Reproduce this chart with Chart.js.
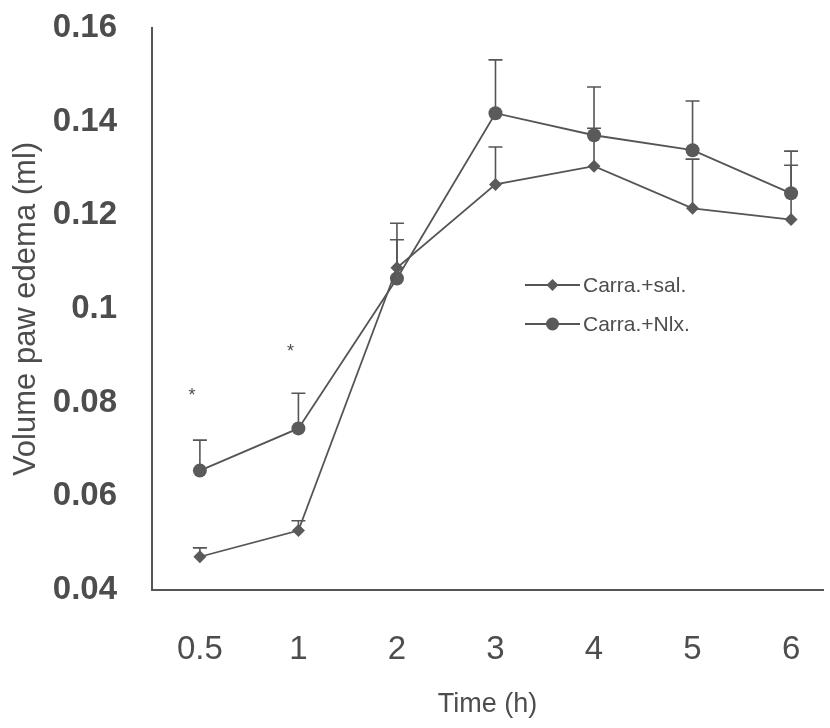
<!DOCTYPE html>
<html>
<head>
<meta charset="utf-8">
<script src="https://cdn.jsdelivr.net/npm/chart.js@4.4.1/dist/chart.umd.min.js"></script>
<style>
  html, body { margin: 0; padding: 0; background: #ffffff; }
  #wrap { width: 830px; height: 728px; position: relative; }
</style>
</head>
<body>
<div id="wrap"><canvas id="c"></canvas></div>
<script>
const categories = ['0.5', '1', '2', '3', '4', '5', '6'];
const yTicks = [0.04, 0.06, 0.08, 0.1, 0.12, 0.14, 0.16];
const salLabel = 'Carra.+sal.';
const nlxLabel = 'Carra.+Nlx.';
const salMean  = [0.0471, 0.0527, 0.1088, 0.1266, 0.1305, 0.1215, 0.1191];
const salUpper = [0.0490, 0.0548, 0.1148, 0.1346, 0.1386, 0.1320, 0.1307];
const nlxMean  = [0.0655, 0.0745, 0.1065, 0.1418, 0.1371, 0.1339, 0.1247];
const nlxUpper = [0.0720, 0.0820, 0.1183, 0.1532, 0.1474, 0.1444, 0.1337];
const starValues = [0.0822, 0.0917, null, null, null, null, null];

const INK = '#555555';
const TEXT = '#4d4d4d';

const errorBarPlugin = {
  id: 'errorBars',
  beforeDatasetsDraw(chart) {
    const ctx = chart.ctx;
    const xs = chart.scales.x, ys = chart.scales.y;
    const sets = [[salMean, salUpper], [nlxMean, nlxUpper]];
    ctx.save();
    ctx.strokeStyle = INK;
    ctx.lineWidth = 1.6;
    sets.forEach(([m, u]) => {
      m.forEach((v, i) => {
        const x = xs.getPixelForValue(i);
        const y0 = ys.getPixelForValue(v);
        const y1 = ys.getPixelForValue(u[i]);
        ctx.beginPath();
        ctx.moveTo(x, y0); ctx.lineTo(x, y1);
        ctx.moveTo(x - 7, y1); ctx.lineTo(x + 7, y1);
        ctx.stroke();
      });
    });
    ctx.restore();
  },
  afterDatasetsDraw(chart) {
    const ctx = chart.ctx;
    const xs = chart.scales.x, ys = chart.scales.y;
    ctx.save();
    ctx.fillStyle = TEXT;
    ctx.font = '18px "Liberation Sans", Arial, sans-serif';
    ctx.textAlign = 'center';
    ctx.textBaseline = 'middle';
    starValues.forEach((v, i) => {
      if (v === null) return;
      ctx.fillText('*', xs.getPixelForValue(i) - 8, ys.getPixelForValue(v) + 4);
    });
    // legend
    const items = [
      { label: chart.data.datasets[0].label, style: 'rectRot', r: 6 },
      { label: chart.data.datasets[1].label, style: 'circle', r: 6.5 }
    ];
    const lx0 = 525, lx1 = 580, ly = [285, 324];
    items.forEach((it, k) => {
      const y = ly[k];
      ctx.strokeStyle = INK;
      ctx.lineWidth = 1.8;
      ctx.beginPath(); ctx.moveTo(lx0, y); ctx.lineTo(lx1, y); ctx.stroke();
      ctx.fillStyle = '#5a5a5a';
      Chart.helpers.drawPoint(ctx, { pointStyle: it.style, radius: it.r, borderWidth: 0 }, (lx0 + lx1) / 2, y);
      ctx.fillStyle = TEXT;
      ctx.font = '21px "Liberation Sans", Arial, sans-serif';
      ctx.textAlign = 'left';
      ctx.fillText(it.label, lx1 + 3, y + 1);
    });
    ctx.restore();
  }
};

new Chart(document.getElementById('c'), {
  type: 'line',
  data: {
    datasets: [
      {
        label: salLabel,
        data: salMean.map((v, i) => ({ x: i, y: v })),
        borderColor: INK, borderWidth: 1.8,
        pointStyle: 'rectRot', pointRadius: 6.5,
        pointBackgroundColor: '#5a5a5a', pointBorderColor: '#5a5a5a', pointBorderWidth: 0
      },
      {
        label: nlxLabel,
        data: nlxMean.map((v, i) => ({ x: i, y: v })),
        borderColor: INK, borderWidth: 1.8,
        pointStyle: 'circle', pointRadius: 7,
        pointBackgroundColor: '#5a5a5a', pointBorderColor: '#5a5a5a', pointBorderWidth: 0
      }
    ]
  },
  options: {
    responsive: true,
    maintainAspectRatio: false,
    animation: false,
    devicePixelRatio: 1,
    layout: { padding: { top: 28, right: 0, left: 0, bottom: 0 } },
    plugins: { legend: { display: false }, tooltip: { enabled: false } },
    scales: {
      x: {
        type: 'linear',
        min: -0.486, max: 6.324,
        afterBuildTicks: (s) => { s.ticks = categories.map((c, i) => ({ value: i })); },
        afterFit: (s) => { s.height = 138; s.paddingLeft = 0; s.paddingRight = 0; },
        grid: { display: false, drawTicks: false },
        border: { display: true, color: INK, width: 2 },
        ticks: {
          padding: 40,
          color: TEXT,
          font: { family: '"Liberation Sans", Arial, sans-serif', size: 33 },
          callback: (v) => categories[v],
          maxRotation: 0
        },
        title: {
          display: true, text: 'Time (h)', color: TEXT,
          font: { family: '"Liberation Sans", Arial, sans-serif', size: 27 },
          padding: { top: 0, bottom: 7 }
        }
      },
      y: {
        min: 0.04, max: 0.16,
        afterBuildTicks: (s) => { s.ticks = yTicks.map(v => ({ value: v })); },
        afterFit: (s) => { s.width = 152; s.paddingTop = 0; s.paddingBottom = 0; },
        grid: { display: false, drawTicks: false },
        border: { display: true, color: INK, width: 2 },
        ticks: {
          padding: 35,
          color: TEXT,
          font: { family: '"Liberation Sans", Arial, sans-serif', size: 33, weight: 'bold' },
          callback: (v) => String(+v.toFixed(2))
        },
        title: {
          display: true, text: 'Volume paw edema (ml)', color: TEXT,
          font: { family: '"Liberation Sans", Arial, sans-serif', size: 31 },
          padding: { top: 8, bottom: 0 }
        }
      }
    }
  },
  plugins: [errorBarPlugin]
});
</script>
</body>
</html>
